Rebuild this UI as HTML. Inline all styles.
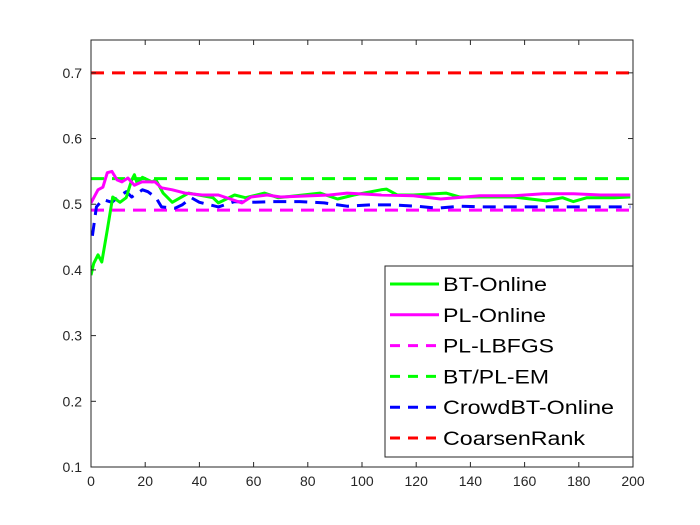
<!DOCTYPE html>
<html><head><meta charset="utf-8"><style>
body{margin:0;background:#fff;}
svg{display:block;font-family:"Liberation Sans",Arial,sans-serif;}
</style></head><body>
<svg id="chart" width="700" height="525" viewBox="0 0 700 525">
<rect x="0" y="0" width="700" height="525" fill="#fff"/>
<g id="plot"></g>
</svg>
<script>
const xTicks=[0,20,40,60,80,100,120,140,160,180,200];
const yTicks=[0.1,0.2,0.3,0.4,0.5,0.6,0.7];
const btX=[0,1,2.6,4,6,8,10.7,13,15,16,17,19,22.5,24,26.6,30,33,36,45,47,53,57,64,69,84.5,91,97,107,109,113,119,131,136,156,168,174,178,183,193,199];
const btY=[0.392,0.41,0.423,0.412,0.461,0.511,0.503,0.51,0.537,0.545,0.532,0.541,0.534,0.537,0.517,0.503,0.51,0.517,0.51,0.502,0.514,0.51,0.517,0.51,0.517,0.508,0.514,0.522,0.523,0.514,0.514,0.517,0.511,0.511,0.505,0.51,0.504,0.51,0.51,0.511];
const plX=[0,2.6,4.4,6,7.7,9.6,11.4,13.6,16,18.8,23.6,26,30,34.7,41,47,55.7,59,65,70,88,94.5,107,119,129,143.5,156,167,178,188,199];
const plY=[0.502,0.522,0.526,0.548,0.55,0.537,0.534,0.54,0.529,0.534,0.534,0.525,0.522,0.517,0.514,0.514,0.502,0.511,0.514,0.511,0.514,0.517,0.514,0.513,0.508,0.513,0.513,0.516,0.516,0.514,0.514];
const cbX=[0.5,2,4.4,7.7,10,13,15,19,21,24,26,31,33.6,37,40,47,53,59,67,77,86,94.5,103,111,120,128,136,145,153.5,162,199];
const cbY=[0.452,0.496,0.507,0.503,0.511,0.519,0.511,0.522,0.519,0.51,0.496,0.494,0.499,0.51,0.503,0.496,0.504,0.503,0.504,0.504,0.502,0.497,0.499,0.499,0.497,0.494,0.497,0.496,0.496,0.496,0.496];
const lbfgsVal=0.491, emVal=0.539, coarsenVal=0.7;
const x0=91,x1=633,yT=40,yB=467,xmin=0,xmax=200,ymin=0.1,ymax=0.75;
const sx=v=>x0+(v-xmin)/(xmax-xmin)*(x1-x0);
const sy=v=>yB-(v-ymin)/(ymax-ymin)*(yB-yT);
const NS="http://www.w3.org/2000/svg";
const g=document.getElementById('plot');
function mk(t,a,p){const e=document.createElementNS(NS,t);for(const k in a)e.setAttribute(k,a[k]);(p||g).appendChild(e);return e;}
const defs=mk('defs',{});const cp=mk('clipPath',{id:'c'},defs);mk('rect',{x:x0,y:yT,width:x1-x0,height:yB-yT},cp);
const series=mk('g',{'clip-path':'url(#c)'});


function hline(v,color,name){const l=mk('line',{x1:x0,x2:x1,y1:sy(v),y2:sy(v),stroke:color,'stroke-width':3,'stroke-dasharray':'13,8'},series);

}
hline(coarsenVal,'#ff0000','coarsenrank-line');
hline(emVal,'#00ff00','bt-pl-em-line');
hline(lbfgsVal,'#ff00ff','pl-lbfgs-line');
function poly(xs,ys,color,dash,name){const pts=xs.map((x,i)=>sx(x).toFixed(1)+','+sy(ys[i]).toFixed(1)).join(' ');
const a={points:pts,fill:'none',stroke:color,'stroke-width':3,'stroke-linejoin':'round'};if(dash)a['stroke-dasharray']=dash;
const p=mk('polyline',a,series);

}
poly(cbX,cbY,'#0000ff','13,8','crowdbt-online-line');
poly(btX,btY,'#00ff00',null,'bt-online-line');
poly(plX,plY,'#ff00ff',null,'pl-online-line');
const box=mk('rect',{x:x0,y:yT,width:x1-x0,height:yB-yT,fill:'none',stroke:'#262626','stroke-width':1});


xTicks.forEach(v=>{const x=sx(v);mk('line',{x1:x,x2:x,y1:yB,y2:yB-5,stroke:'#262626'});mk('line',{x1:x,x2:x,y1:yT,y2:yT+5,stroke:'#262626'});
const t=mk('text',{x:x,y:yB+19,'text-anchor':'middle','font-size':14,fill:'#262626'});t.textContent=v;

});
yTicks.forEach(v=>{const y=sy(v);mk('line',{x1:x0,x2:x0+5,y1:y,y2:y,stroke:'#262626'});mk('line',{x1:x1,x2:x1-5,y1:y,y2:y,stroke:'#262626'});
const t=mk('text',{x:x0-9,y:y+5,'text-anchor':'end','font-size':14,fill:'#262626'});t.textContent=v.toFixed(1);

});
const lg=mk('g',{});


mk('rect',{x:385,y:266,width:248,height:191,fill:'#fff',stroke:'#262626','stroke-width':1},lg);
const entries=[['BT-Online','#00ff00',null,104],['PL-Online','#ff00ff',null,103],['PL-LBFGS','#ff00ff','10,8',111],['BT/PL-EM','#00ff00','10,8',106],['CrowdBT-Online','#0000ff','10,8',171],['CoarsenRank','#ff0000','10,8',142]];
entries.forEach((e,i)=>{const y=284+i*30.8;const eg=mk('g',{},lg);


const a={x1:390,x2:439,y1:y,y2:y,stroke:e[1],'stroke-width':3};if(e[2])a['stroke-dasharray']=e[2];mk('line',a,eg);
const t=mk('text',{x:443,y:y+7,'font-size':19,fill:'#000',textLength:e[3],lengthAdjust:'spacingAndGlyphs'},eg);t.textContent=e[0];});
</script>
</body></html>
